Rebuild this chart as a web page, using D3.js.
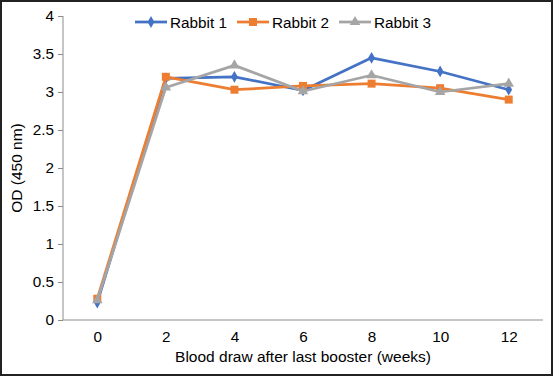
<!DOCTYPE html>
<html>
<head>
<meta charset="utf-8">
<script src="https://cdn.jsdelivr.net/npm/d3@7"></script>
<style>
  body { margin: 0; background: #fff; }
  svg { display: block; font-family: "Liberation Sans", Arial, sans-serif; }
</style>
</head>
<body>
<svg id="chart" width="553" height="376"></svg>
<script>
// Values.
var weeks = ["0", "2", "4", "6", "8", "10", "12"];
var rabbit1 = [0.23, 3.18, 3.2, 3.02, 3.45, 3.27, 3.03];
var rabbit2 = [0.28, 3.2, 3.03, 3.08, 3.11, 3.05, 2.9];
var rabbit3 = [0.26, 3.06, 3.35, 3.01, 3.22, 3.0, 3.11];
var yTicks = [0, 0.5, 1, 1.5, 2, 2.5, 3, 3.5, 4];

var series = [
    { name: "Rabbit 1", values: rabbit1, color: "#4472C4", symbol: d3.symbolDiamond, size: 40 },
    { name: "Rabbit 2", values: rabbit2, color: "#ED7D31", symbol: d3.symbolSquare, size: 64 },
    { name: "Rabbit 3", values: rabbit3, color: "#A5A5A5", symbol: d3.symbolTriangle, size: 48 }
];

var svg = d3.select("#chart");
var fs = 15.3;

// Outer frame of the figure.
svg.append("rect")
    .attr("x", 1).attr("y", 1)
    .attr("width", 551).attr("height", 374)
    .attr("fill", "none")
    .attr("stroke", "#222")
    .attr("stroke-width", 2);

// plot area edges (don't call these top/left: window.top is read-only)
var plotL = 63, plotR = 543, plotT = 16, plotB = 320;

var x = d3.scalePoint().domain(weeks).range([plotL, plotR]).padding(0.5);
var y = d3.scaleLinear().domain([0, 4]).range([plotB, plotT]);

// Y axis
var yAxis = svg.append("g")
    .attr("transform", "translate(" + plotL + ",0)")
    .call(d3.axisLeft(y).tickValues(yTicks).tickSize(5).tickPadding(4).tickFormat(d3.format("")));
yAxis.select(".domain").attr("stroke", "#8c8c8c").attr("d", "M0," + plotT + "V" + plotB);
yAxis.selectAll(".tick line").attr("stroke", "#8c8c8c");
yAxis.selectAll("text").attr("font-size", fs).attr("fill", "#000")
    .attr("font-family", "Liberation Sans, Arial, sans-serif");

// X axis (no tick marks)
var xAxis = svg.append("g")
    .attr("transform", "translate(0," + plotB + ")")
    .call(d3.axisBottom(x).tickSize(0).tickPadding(11));
xAxis.select(".domain").attr("stroke", "#8c8c8c").attr("d", "M" + plotL + ",0H" + plotR);
xAxis.selectAll("text").attr("font-size", fs).attr("fill", "#000")
    .attr("font-family", "Liberation Sans, Arial, sans-serif");

// Axis titles
svg.append("text")
    .attr("x", 303).attr("y", 362)
    .attr("text-anchor", "middle")
    .attr("font-size", 15.5)
    .text("Blood draw after last booster (weeks)");

svg.append("text")
    .attr("transform", "translate(22," + ((plotT + plotB) / 2) + ") rotate(-90)")
    .attr("text-anchor", "middle")
    .attr("font-size", 15.5)
    .text("OD (450 nm)");

// Lines and markers
var line = d3.line()
    .x(function (d, i) { return x(weeks[i]); })
    .y(function (d) { return y(d); });

series.forEach(function (s) {
    var g = svg.append("g");
    g.append("path")
        .datum(s.values)
        .attr("d", line)
        .attr("fill", "none")
        .attr("stroke", s.color)
        .attr("stroke-width", 2.75)
        .attr("stroke-linejoin", "round");
    g.selectAll("path.marker")
        .data(s.values)
        .enter().append("path")
        .attr("class", "marker")
        .attr("d", d3.symbol().type(s.symbol).size(s.size))
        .attr("transform", function (d, i) {
            return "translate(" + x(weeks[i]) + "," + y(d) + ")";
        })
        .attr("fill", s.color);
});

// Legend
var legendX = [135, 237, 339];
series.forEach(function (s, i) {
    var lg = svg.append("g").attr("transform", "translate(" + legendX[i] + ",22)");
    lg.append("line")
        .attr("x1", 0).attr("x2", 32)
        .attr("stroke", s.color)
        .attr("stroke-width", 2.75);
    lg.append("path")
        .attr("d", d3.symbol().type(s.symbol).size(s.size))
        .attr("transform", "translate(16,0)")
        .attr("fill", s.color);
    lg.append("text")
        .attr("x", 35).attr("y", 5.5)
        .attr("font-size", fs)
        .text(s.name);
});
</script>
</body>
</html>
